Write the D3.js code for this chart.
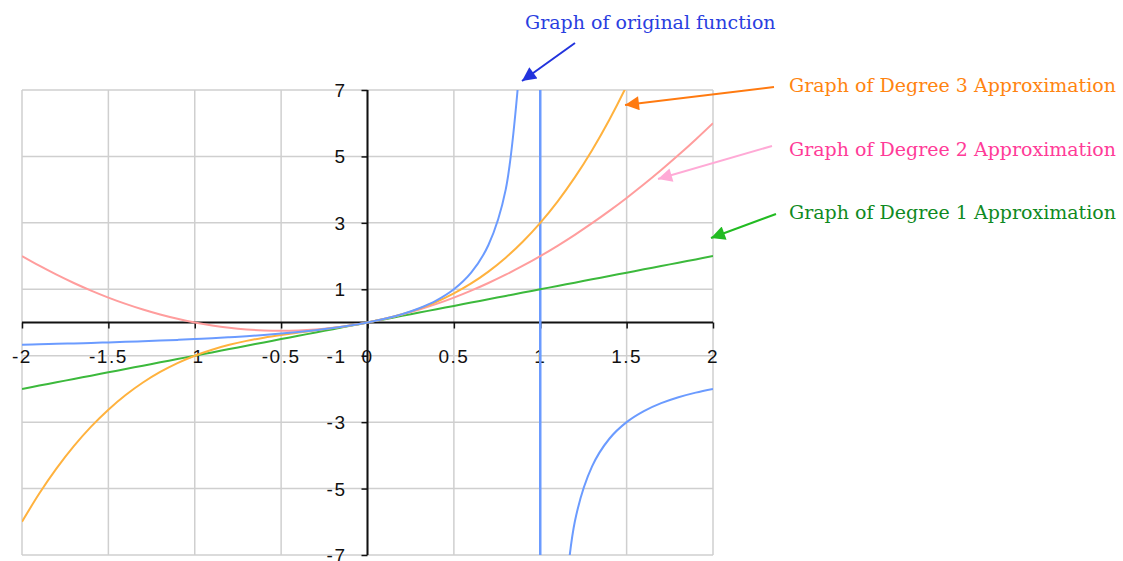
<!DOCTYPE html>
<html lang="en">
<head>
  <meta charset="UTF-8">
  <title>Graph of original function and its approximations</title>
  <style>
    body, html {
      margin: 0;
      padding: 0;
      background: white;
    }
    .tick-label {
      font-family: "Liberation Sans", Arial, sans-serif;
      font-size: 19px;
      letter-spacing: 1.5px;
      fill: #111;
    }
    .note {
      font-family: "DejaVu Serif", serif;
      font-size: 19px;
    }
  </style>
</head>
<body>
  <script src="https://d3js.org/d3.v7.min.js"></script>
  <script>
    // x values (step 0.1)
    const xValues = [-2, -1.9, -1.8, -1.7, -1.6, -1.5, -1.4, -1.3, -1.2, -1.1, -1, -0.9, -0.8, -0.7, -0.6, -0.5, -0.4, -0.3, -0.2, -0.1,
      0, 0.1, 0.2, 0.3, 0.4, 0.5, 0.6, 0.7, 0.8, 0.9, 1, 1.1, 1.2, 1.3, 1.4, 1.5, 1.6, 1.7, 1.8, 1.9, 2];

    // original function (null where it is undefined)
    const originalY = [-0.667, -0.655, -0.643, -0.63, -0.615, -0.6, -0.583, -0.565, -0.545, -0.524, -0.5, -0.474, -0.444, -0.412, -0.375, -0.333, -0.286, -0.231, -0.167, -0.091,
      0, 0.111, 0.25, 0.429, 0.667, 1, 1.5, 2.333, 4, 9, null, -11, -6, -4.333, -3.5, -3, -2.667, -2.429, -2.25, -2.111, -2];

    const degree1Y = [-2, -1.9, -1.8, -1.7, -1.6, -1.5, -1.4, -1.3, -1.2, -1.1, -1, -0.9, -0.8, -0.7, -0.6, -0.5, -0.4, -0.3, -0.2, -0.1,
      0, 0.1, 0.2, 0.3, 0.4, 0.5, 0.6, 0.7, 0.8, 0.9, 1, 1.1, 1.2, 1.3, 1.4, 1.5, 1.6, 1.7, 1.8, 1.9, 2];

    const degree2Y = [2, 1.71, 1.44, 1.19, 0.96, 0.75, 0.56, 0.39, 0.24, 0.11, 0, -0.09, -0.16, -0.21, -0.24, -0.25, -0.24, -0.21, -0.16, -0.09,
      0, 0.11, 0.24, 0.39, 0.56, 0.75, 0.96, 1.19, 1.44, 1.71, 2, 2.31, 2.64, 2.99, 3.36, 3.75, 4.16, 4.59, 5.04, 5.51, 6];

    const degree3Y = [-6, -5.149, -4.392, -3.723, -3.136, -2.625, -2.184, -1.807, -1.488, -1.221, -1, -0.819, -0.672, -0.553, -0.456, -0.375, -0.304, -0.237, -0.168, -0.091,
      0, 0.111, 0.248, 0.417, 0.624, 0.875, 1.176, 1.533, 1.952, 2.439, 3, 3.641, 4.368, 5.187, 6.104, 7.125, 8.256, 9.503, 10.872, 12.369, 14];

    // vertical asymptote drawn with the original function
    const asymptoteX = [1, 1];
    const asymptoteY = [7, -7];

    const xTicks = [-2, -1.5, -1, -0.5, 0, 0.5, 1, 1.5, 2];
    const yTicks = [7, 5, 3, 1, -1, -3, -5, -7];

    const notes = ['Graph of original function', 'Graph of Degree 3 Approximation',
      'Graph of Degree 2 Approximation', 'Graph of Degree 1 Approximation'];

    const width = 1123;
    const height = 561;
    const plot = { left: 22, right: 713, top: 90, bottom: 555 };

    const svg = d3.select('body')
      .append('svg')
      .attr('width', width)
      .attr('height', height);

    const x = d3.scaleLinear().domain([-2, 2]).range([plot.left, plot.right]);
    const y = d3.scaleLinear().domain([-7, 7]).range([plot.bottom, plot.top]);

    svg.append('clipPath').attr('id', 'plot-clip')
      .append('rect')
      .attr('x', plot.left).attr('y', plot.top)
      .attr('width', plot.right - plot.left).attr('height', plot.bottom - plot.top);

    // grid
    const grid = svg.append('g').attr('stroke', '#cfcfcf').attr('stroke-width', 1.5);
    grid.selectAll('.vg').data(xTicks).enter().append('line')
      .attr('x1', d => x(d)).attr('x2', d => x(d))
      .attr('y1', plot.top).attr('y2', plot.bottom);
    grid.selectAll('.hg').data(yTicks).enter().append('line')
      .attr('x1', plot.left).attr('x2', plot.right)
      .attr('y1', d => y(d)).attr('y2', d => y(d));

    // axes through the origin
    const xAxis = d3.axisBottom(x).tickValues(xTicks).tickSize(6).tickFormat('');
    const yAxis = d3.axisLeft(y).tickValues(yTicks).tickSize(6).tickFormat('');

    const gx = svg.append('g').attr('transform', `translate(0,${y(0)})`).call(xAxis);
    const gy = svg.append('g').attr('transform', `translate(${x(0)},0)`).call(yAxis);
    [gx, gy].forEach(g => {
      g.select('.domain').attr('stroke', '#111').attr('stroke-width', 2);
      g.selectAll('.tick line').attr('stroke', '#111').attr('stroke-width', 1.5);
    });
    gx.select('.domain').attr('d', `M${plot.left},0H${plot.right}`);
    gy.select('.domain').attr('d', `M0,${plot.top}V${plot.bottom}`);

    // tick labels
    svg.append('g').selectAll('text').data(xTicks).enter().append('text')
      .attr('class', 'tick-label')
      .attr('x', d => x(d))
      .attr('y', y(-1) + 7)
      .attr('text-anchor', 'middle')
      .text(d => d);

    svg.append('g').selectAll('text').data(yTicks).enter().append('text')
      .attr('class', 'tick-label')
      .attr('x', x(0) - 21)
      .attr('y', d => y(d) + 7)
      .attr('text-anchor', 'end')
      .text(d => d);

    // series
    const series = [
      { name: 'degree1', ys: degree1Y, color: '#3cb93c', width: 2 },
      { name: 'degree2', ys: degree2Y, color: '#ff9d9d', width: 2 },
      { name: 'degree3', ys: degree3Y, color: '#ffb23e', width: 2 },
      { name: 'original', ys: originalY, color: '#6b9bff', width: 2 }
    ];

    const line = d3.line()
      .defined(d => d[1] !== null)
      .x(d => x(d[0]))
      .y(d => y(d[1]))
      .curve(d3.curveCatmullRom.alpha(0.5));

    const lines = svg.append('g').attr('clip-path', 'url(#plot-clip)');

    lines.append('path')
      .datum(asymptoteX.map((v, i) => [v, asymptoteY[i]]))
      .attr('fill', 'none')
      .attr('stroke', '#6b9bff')
      .attr('stroke-width', 2.5)
      .attr('d', d3.line().x(d => x(d[0])).y(d => y(d[1])));

    series.forEach(s => {
      lines.append('path')
        .datum(xValues.map((v, i) => [v, s.ys[i]]))
        .attr('fill', 'none')
        .attr('stroke', s.color)
        .attr('stroke-width', s.width)
        .attr('d', line);
    });

    // annotations with arrows
    const defs = svg.append('defs');
    const annotations = [
      { text: notes[0], tx: 525, ty: 29, textColor: '#2a3ee0', arrowColor: '#2233dd', from: [575, 43], to: [522, 81] },
      { text: notes[1], tx: 789, ty: 92, textColor: '#ff8410', arrowColor: '#ff7a10', from: [774, 87], to: [625, 105] },
      { text: notes[2], tx: 789, ty: 156, textColor: '#ff3b98', arrowColor: '#ffaad6', from: [772, 146], to: [658, 179] },
      { text: notes[3], tx: 789, ty: 219, textColor: '#0f8a22', arrowColor: '#22bb22', from: [776, 214], to: [711, 238] }
    ];

    annotations.forEach((a, i) => {
      defs.append('marker')
        .attr('id', 'arrow' + i)
        .attr('viewBox', '0 0 10 10')
        .attr('refX', 10).attr('refY', 5)
        .attr('markerWidth', 8).attr('markerHeight', 7)
        .attr('markerUnits', 'strokeWidth')
        .attr('orient', 'auto')
        .append('path')
        .attr('d', 'M0,0L10,5L0,10Z')
        .attr('fill', a.arrowColor);

      svg.append('line')
        .attr('x1', a.from[0]).attr('y1', a.from[1])
        .attr('x2', a.to[0]).attr('y2', a.to[1])
        .attr('stroke', a.arrowColor)
        .attr('stroke-width', 2)
        .attr('marker-end', `url(#arrow${i})`);

      svg.append('text')
        .attr('class', 'note')
        .attr('x', a.tx).attr('y', a.ty)
        .attr('fill', a.textColor)
        .text(a.text);
    });
  </script>
</body>
</html>
